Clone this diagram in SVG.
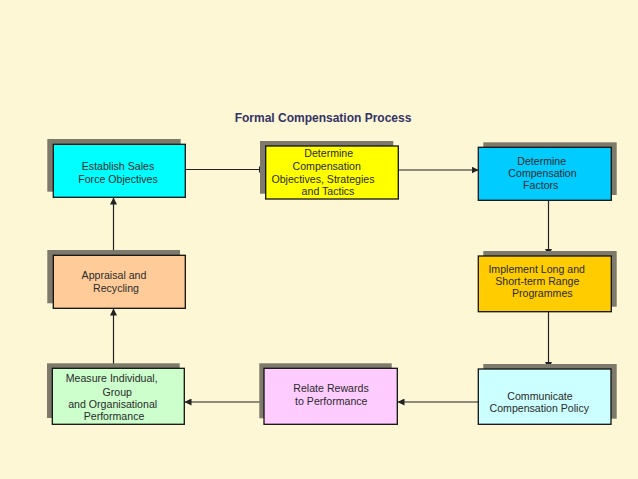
<svg xmlns="http://www.w3.org/2000/svg" width="638" height="479" viewBox="0 0 638 479">
<style>
.sh{fill:#7d7a6b}
.bx{stroke:#111;stroke-width:1.3}
.t{font-family:"Liberation Sans",Arial,sans-serif;font-size:10.6px;fill:#2a2a2a;text-anchor:middle}
.ttl{font-family:"Liberation Sans",Arial,sans-serif;font-size:12px;font-weight:bold;fill:#333366;text-anchor:middle}
.c{stroke:#222;stroke-width:1.2;fill:none;marker-end:url(#ah)}
</style>
<defs>
<marker id="ah" viewBox="0 0 10 10" refX="10" refY="5" markerWidth="7" markerHeight="7" markerUnits="userSpaceOnUse" orient="auto">
<path d="M0,0 L10,5 L0,10 z" fill="#222"/>
</marker>
</defs>
<rect width="638" height="479" fill="#fef7d5"/>
<text class="ttl" x="323" y="121.5">Formal Compensation Process</text>
<g id="connectors">
<line class="c" x1="185" y1="169.5" x2="265.5" y2="169.5"/>
<line class="c" x1="398.5" y1="170" x2="478.5" y2="170"/>
<line class="c" x1="548.5" y1="200.5" x2="548.5" y2="256"/>
<line class="c" x1="548.5" y1="311.5" x2="548.5" y2="369"/>
<line class="c" x1="478.5" y1="402" x2="397.5" y2="402"/>
<line class="c" x1="264" y1="402" x2="184.5" y2="402"/>
<line class="c" x1="113.5" y1="368.5" x2="113.5" y2="308.5"/>
<line class="c" x1="113.5" y1="255.5" x2="113.5" y2="197.5"/>
</g>
<g id="n1">
<rect class="sh" x="47.3" y="139" width="133.4" height="52.7"/>
<rect class="bx" x="53.3" y="144.3" width="132" height="53" fill="#00ffff"/>
<text class="t" x="118" y="169.5">Establish Sales</text>
<text class="t" x="118" y="182.5">Force Objectives</text>
</g>
<g id="n2">
<rect class="sh" x="260" y="141" width="133.3" height="52.7"/>
<rect class="bx" x="265.7" y="146" width="132.6" height="53" fill="#ffff00"/>
<text class="t" x="328.7" y="157">Determine</text>
<text class="t" x="326.7" y="170">Compensation</text>
<text class="t" x="323" y="182.5">Objectives, Strategies</text>
<text class="t" x="328" y="194.5">and Tactics</text>
</g>
<g id="n3">
<rect class="sh" x="483.3" y="142.3" width="133.4" height="52.7"/>
<rect class="bx" x="478.3" y="147.3" width="133" height="53" fill="#00ccff"/>
<text class="t" x="541.7" y="164.5">Determine</text>
<text class="t" x="542.5" y="177">Compensation</text>
<text class="t" x="540.7" y="189">Factors</text>
</g>
<g id="n4">
<rect class="sh" x="483.3" y="251" width="133.4" height="55.7"/>
<rect class="bx" x="478.3" y="256" width="133" height="55.7" fill="#ffcc00"/>
<text class="t" x="536.7" y="272.5">Implement Long and</text>
<text class="t" x="537.3" y="285">Short-term Range</text>
<text class="t" x="542.3" y="297">Programmes</text>
</g>
<g id="n5">
<rect class="sh" x="47.3" y="250" width="132.7" height="53.3"/>
<rect class="bx" x="53.3" y="255.3" width="132" height="53" fill="#ffcc99"/>
<text class="t" x="114" y="278.5">Appraisal and</text>
<text class="t" x="116" y="292">Recycling</text>
</g>
<g id="n6">
<rect class="sh" x="259.3" y="363.3" width="132.4" height="55"/>
<rect class="bx" x="264" y="368.3" width="133.3" height="56" fill="#ffccff"/>
<text class="t" x="331" y="392">Relate Rewards</text>
<text class="t" x="331.3" y="404.5">to Performance</text>
</g>
<g id="n7">
<rect class="sh" x="47" y="363.3" width="132.7" height="54.7"/>
<rect class="bx" x="52.3" y="368.3" width="132" height="56" fill="#ccffcc"/>
<text class="t" x="111.7" y="382">Measure Individual,</text>
<text class="t" x="117.3" y="396">Group</text>
<text class="t" x="112.7" y="407.5">and Organisational</text>
<text class="t" x="114" y="419.5">Performance</text>
</g>
<g id="n8">
<rect class="sh" x="483.3" y="364" width="133.4" height="54.7"/>
<rect class="bx" x="478.3" y="369" width="132.7" height="55.3" fill="#ccffff"/>
<text class="t" x="540" y="399.5">Communicate</text>
<text class="t" x="539.3" y="411.5">Compensation Policy</text>
</g>
</svg>
